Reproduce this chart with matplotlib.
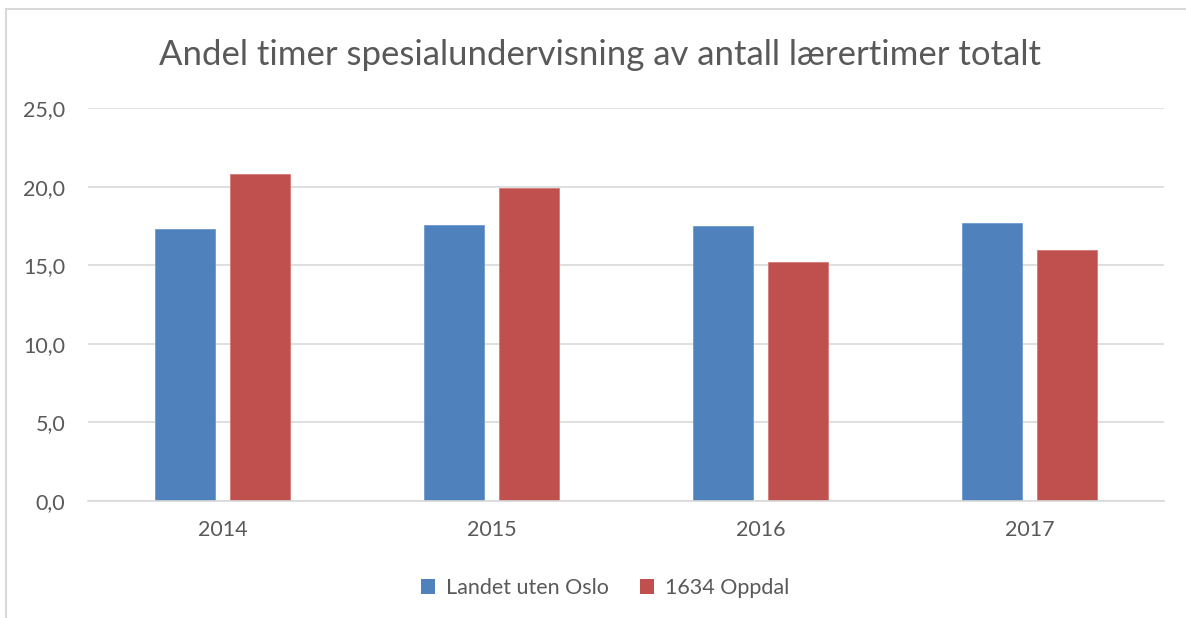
"""Andel timer spesialundervisning av antall lærertimer totalt."""

import matplotlib
matplotlib.use("Agg")
import matplotlib.pyplot as plt
from matplotlib.lines import Line2D
from matplotlib.patches import Patch
from matplotlib.ticker import FuncFormatter, MultipleLocator
import numpy as np


TITLE = "Andel timer spesialundervisning av antall lærertimer totalt"
YEARS = ["2014", "2015", "2016", "2017"]
LANDET_UTEN_OSLO = [17.3, 17.6, 17.5, 17.7]
OPPDAL = [20.8, 19.9, 15.2, 16.0]
SERIES_NAMES = ["Landet uten Oslo", "1634 Oppdal"]

BLUE = "#4f81bd"
RED = "#c0504d"
TEXT_GREY = "#595959"
GRID_GREY = "#d9d9d9"
FONT = "Lato"
LABEL_SIZE = 15.5


def main() -> None:
    plt.rcParams["font.family"] = [FONT, "DejaVu Sans"]
    fig = plt.figure(figsize=(11.86, 6.18), dpi=100)
    ax = fig.add_axes([0.0742, 0.1893, 0.9073, 0.6355])

    x = np.arange(len(YEARS))
    width = 0.223
    offset = 0.141
    ax.bar(x - offset, LANDET_UTEN_OSLO, width, color=BLUE, edgecolor="#6f9bd0", linewidth=0.6)
    ax.bar(x + offset, OPPDAL, width, color=RED, edgecolor="#d27a78", linewidth=0.6)

    ax.set_xlim(-0.5, len(YEARS) - 0.5)
    ax.set_ylim(0, 25)
    ax.yaxis.set_major_locator(MultipleLocator(5))
    ax.yaxis.set_major_formatter(FuncFormatter(lambda v, _: f"{v:.1f}".replace(".", ",")))
    ax.set_xticks(x)
    ax.set_xticklabels(YEARS)

    ax.grid(axis="y", color=GRID_GREY, linewidth=1.2)
    ax.set_axisbelow(True)
    for side in ("top", "right", "left"):
        ax.spines[side].set_visible(False)
    ax.spines["bottom"].set_color(GRID_GREY)
    ax.spines["bottom"].set_linewidth(1.2)
    ax.tick_params(axis="both", length=0, labelsize=LABEL_SIZE, colors=TEXT_GREY)
    ax.tick_params(axis="y", pad=16.5)
    ax.tick_params(axis="x", pad=14)

    fig.text(0.506, 0.911, TITLE, ha="center", va="center", fontsize=25, color=TEXT_GREY)

    handles = [Patch(facecolor=BLUE), Patch(facecolor=RED)]
    fig.legend(handles, SERIES_NAMES, loc="center", bbox_to_anchor=(0.51, 0.0485), ncol=2,
               frameon=False, fontsize=LABEL_SIZE, labelcolor=TEXT_GREY, handlelength=0.65,
               handleheight=0.65, handletextpad=0.5, columnspacing=1.45)

    # chart area border (only left and top edges are visible in the crop)
    fig.add_artist(Line2D([6 / 1186, 6 / 1186], [0, 1 - 9 / 618], transform=fig.transFigure,
                          color=GRID_GREY, linewidth=1.5))
    fig.add_artist(Line2D([6 / 1186, 1], [1 - 9 / 618, 1 - 9 / 618], transform=fig.transFigure,
                          color=GRID_GREY, linewidth=1.5))

    fig.savefig("out.png", dpi=100)
    plt.close(fig)


if __name__ == "__main__":
    main()
